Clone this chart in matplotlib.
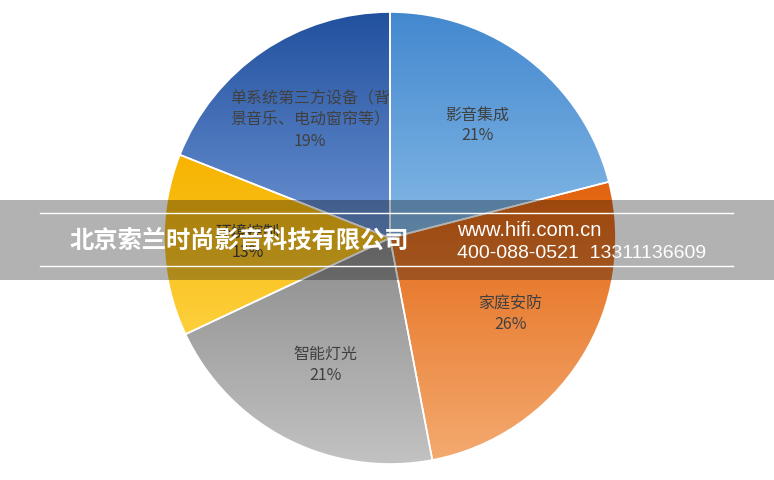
import numpy as np
import matplotlib
matplotlib.use("Agg")
import matplotlib.pyplot as plt
from matplotlib.colors import LinearSegmentedColormap
from matplotlib.patches import Rectangle
from matplotlib.lines import Line2D

plt.rcParams['font.family'] = ['Noto Sans CJK SC', 'DejaVu Sans']

# data
names = ["影音集成", "家庭安防", "智能灯光", "环境控制", "单系统第三方设备（背\n景音乐、电动窗帘等）"]
shares = [21, 26, 21, 13, 19]
# gradient colours (top, bottom) for each slice
top_colors = ["#4388cf", "#e2630e", "#8c8c8c", "#f7b300", "#21509e"]
bottom_colors = ["#85b9e6", "#f4aa70", "#c2c2c2", "#fdd03c", "#6c93d3"]

W, H = 774, 480
fig = plt.figure(figsize=(W / 100, H / 100), dpi=100)
fig.patch.set_facecolor("white")

# pie axes: centre (390, 238) px, radius 226 px
cx, cy, r = 390, 238, 226
lim = 1.05
side = 2 * r * lim
ax = fig.add_axes([(cx - side / 2) / W, (H - cy - side / 2) / H, side / W, side / H])

wedges, _ = ax.pie(shares, startangle=90, counterclock=False, radius=1,
                   wedgeprops=dict(edgecolor="white", linewidth=1.2))
ax.set_aspect("equal")
ax.axis("off")

grad = np.linspace(0, 1, 256).reshape(-1, 1)
for w, c0, c1 in zip(wedges, top_colors, bottom_colors):
    bb = w.get_path().get_extents()
    cmap = LinearSegmentedColormap.from_list("g", [c0, c1])
    im = ax.imshow(grad, cmap=cmap, aspect="auto", origin="upper",
                   extent=[bb.x0, bb.x1, bb.y0, bb.y1], zorder=1, interpolation="bilinear")
    im.set_clip_path(w)
    w.set_facecolor("none")
    w.set_zorder(3)

ax.set_xlim(-lim, lim)
ax.set_ylim(-lim, lim)

# slice labels
for w, name, v in zip(wedges, names, shares):
    mid = np.deg2rad((w.theta1 + w.theta2) / 2)
    ax.text(0.63 * np.cos(mid), 0.63 * np.sin(mid), f"{name}\n{v}%",
            ha="center", va="center", fontsize=11.5, color="#404040",
            linespacing=1.3, zorder=4)

# watermark band
fig.add_artist(Rectangle((0, 1 - 280 / H), 1, 80 / H, transform=fig.transFigure,
                         facecolor="black", alpha=0.3, edgecolor="none", zorder=5))
for y in (213, 266):
    fig.add_artist(Line2D([40 / W, 733 / W], [1 - y / H, 1 - y / H], transform=fig.transFigure,
                          color="white", linewidth=1, zorder=6))
fig.text(70 / W, 1 - 241 / H, "北京索兰时尚影音科技有限公司", fontsize=17.5, fontweight="heavy",
         color="white", ha="left", va="center", zorder=7)
fig.text(457 / W, 1 - 230 / H, "www.hifi.com.cn", fontsize=14.5, color="white",
         family=["Liberation Sans", "DejaVu Sans"], ha="left", va="center", zorder=7)
fig.text(457 / W, 1 - 253 / H, "400-088-0521  13311136609", fontsize=14, color="white",
         family=["Liberation Sans", "DejaVu Sans"], ha="left", va="center", zorder=7)

fig.savefig("out.png", dpi=100)
